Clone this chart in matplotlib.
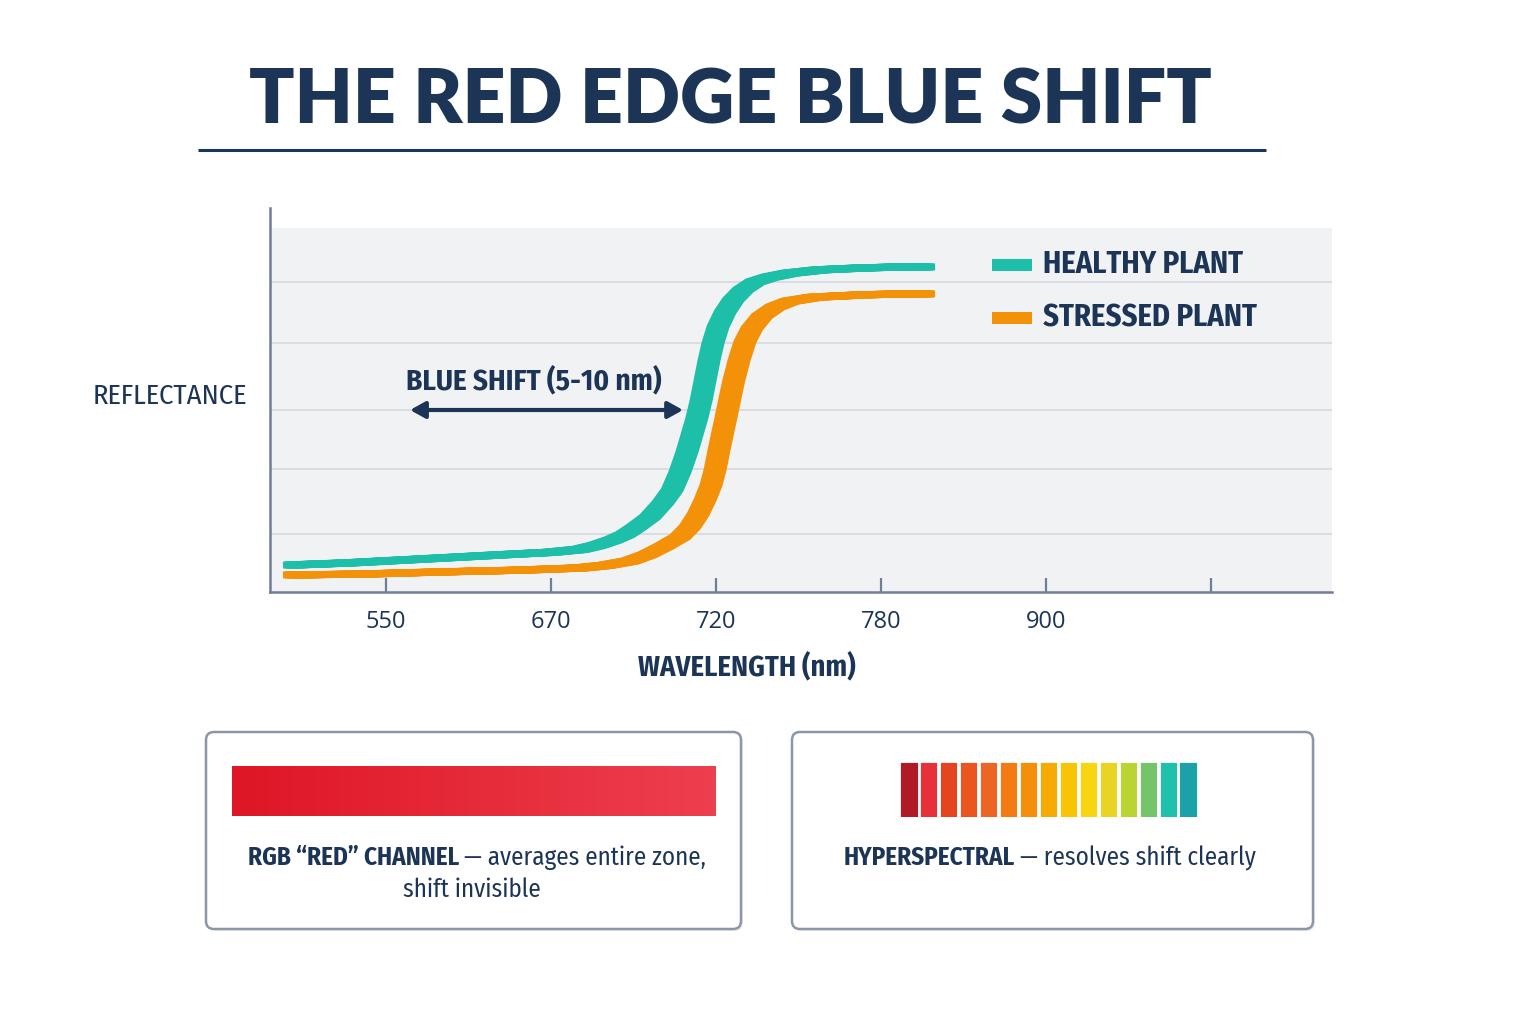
import numpy as np
import matplotlib
matplotlib.use("Agg")
import matplotlib.pyplot as plt
import matplotlib.transforms as mtransforms
from matplotlib.patches import FancyBboxPatch, Rectangle
from matplotlib.colors import LinearSegmentedColormap
from matplotlib.offsetbox import TextArea, HPacker, AnnotationBbox

# ---------------- data ----------------
tick_nm = [550, 670, 720, 780, 900, 1020]
tick_labels = ["550", "670", "720", "780", "900", ""]

healthy_nm = [480.9, 523.1, 588.5, 632.9, 669.3, 678.8, 683.9, 688.8, 692.5, 695.5,
              700.0, 703.9, 706.7, 709.1, 711.2, 712.7, 714.2, 715.5, 716.7, 717.9,
              719.1, 720.7, 723.3, 726.2, 729.8, 734.2, 739.6, 746.9, 757.8, 772.4,
              793.8, 813.5]
healthy_refl = [7.4, 8.0, 9.3, 10.2, 10.9, 11.7, 12.8, 14.3, 15.8, 17.6,
                20.6, 24.5, 28.0, 33.0, 38.5, 43.1, 47.8, 52.7, 58.2, 63.7,
                68.4, 72.8, 76.9, 80.2, 83.0, 85.2, 86.5, 87.6, 88.5, 89.0,
                89.3, 89.3]

stressed_nm = [480.9, 531.1, 588.5, 647.5, 678.8, 686.4, 693.9, 699.1, 703.9, 709.1,
               712.1, 714.5, 716.7, 718.5, 719.7, 721.1, 722.5, 723.6, 725.1, 726.5,
               728.4, 730.5, 733.1, 736.7, 741.5, 746.9, 756.0, 772.4, 793.8, 813.5]
stressed_refl = [4.7, 4.9, 5.5, 6.0, 6.6, 7.3, 8.5, 10.2, 12.4, 15.1,
                 17.9, 21.2, 25.3, 29.4, 33.5, 39.0, 44.0, 47.8, 53.3, 58.2,
                 63.7, 68.7, 72.5, 75.8, 78.3, 79.9, 81.0, 81.6, 81.9, 81.9]

grid_refl = [15.9, 33.8, 50.0, 68.4, 85.2]
shift_arrow_nm = [567.5, 710.0]
shift_arrow_refl = 50.0
series_names = ["HEALTHY PLANT", "STRESSED PLANT"]
series_colors = ["#1dbfa9", "#f39208"]
red_gradient = ["#de1626", "#ee3f4e"]
spectrum_colors = ["#b01a24", "#e8303a", "#e4441f", "#ea5520", "#ec6525",
                   "#f47a14", "#f58e0a", "#f6aa06", "#f9c404", "#f9d511",
                   "#e9d426", "#bad433", "#74c46a", "#1fc0ac", "#1ca1a8"]

NAVY = "#1c3557"
SPINE = "#6f7f95"
COND = ["Fira Sans Condensed", "PT Sans Narrow", "Roboto Condensed", "DejaVu Sans"]

W, H = 1536, 1024
fig = plt.figure(figsize=(W / 100, H / 100), dpi=100)
fig.patch.set_facecolor("white")

# overlay axes in pixel units
ov = fig.add_axes([0, 0, 1, 1])
ov.set_xlim(0, W)
ov.set_ylim(H, 0)
ov.axis("off")
ov.set_zorder(2)

# title
ov.text(730, 102, "THE RED EDGE BLUE SHIFT", ha="center", va="center",
        fontsize=54, fontweight="heavy", color=NAVY, family=["Lato", "DejaVu Sans"])
ov.plot([198, 1266], [150, 150], color=NAVY, lw=2.2, solid_capstyle="butt")

# ---------------- main chart ----------------
def fwd(x):
    x = np.asarray(x, dtype=float)
    y = np.interp(x, tick_nm, np.arange(1, len(tick_nm) + 1))
    y = np.where(x < tick_nm[0], 1 + (x - tick_nm[0]) / 120.0, y)
    y = np.where(x > tick_nm[-1], len(tick_nm) + (x - tick_nm[-1]) / 120.0, y)
    return y

def inv(p):
    p = np.asarray(p, dtype=float)
    x = np.interp(p, np.arange(1, len(tick_nm) + 1), tick_nm)
    x = np.where(p < 1, tick_nm[0] + (p - 1) * 120.0, x)
    x = np.where(p > len(tick_nm), tick_nm[-1] + (p - len(tick_nm)) * 120.0, x)
    return x

ax = fig.add_axes([270 / W, 1 - 592 / H, (1332 - 270) / W, 384 / H])
ax.set_zorder(1)
ax.set_facecolor("none")
ax.set_xscale("function", functions=(fwd, inv))
ax.set_xlim(inv(0.297), inv(6.733))
ytop = 100 * 384 / 364
ax.set_ylim(0, ytop)

ax.add_patch(Rectangle((0, 0), 1, 100 / ytop, transform=ax.transAxes,
                       facecolor="#f1f2f4", edgecolor="none", zorder=0))
for g in grid_refl:
    ax.axhline(g, color="#d8dadf", lw=1.3, zorder=1)

for spine in ["top", "right"]:
    ax.spines[spine].set_visible(False)
for spine in ["left", "bottom"]:
    ax.spines[spine].set_color(SPINE)
    ax.spines[spine].set_linewidth(1.8)

ax.set_xticks(tick_nm)
ax.set_xticklabels(tick_labels)
ax.tick_params(axis="x", direction="in", length=10, width=1.6, color=SPINE,
               labelsize=17, labelcolor=NAVY, pad=13)
for lbl in ax.get_xticklabels():
    lbl.set_family(["Open Sans", "DejaVu Sans"])
ax.set_yticks([])

# curves with calligraphic thickness
for xs, ys, c in [(stressed_nm, stressed_refl, series_colors[1]),
                  (healthy_nm, healthy_refl, series_colors[0])]:
    for dx in np.linspace(-8, 8, 13):
        tr = mtransforms.offset_copy(ax.transData, fig=fig, x=dx, y=0, units="dots")
        ax.plot(xs, ys, color=c, lw=5.0, solid_capstyle="butt", solid_joinstyle="round",
                transform=tr, zorder=3)

# blue shift annotation
ax.annotate("", xy=(shift_arrow_nm[0], shift_arrow_refl),
            xytext=(shift_arrow_nm[1], shift_arrow_refl),
            arrowprops=dict(arrowstyle="<|-|>,head_length=0.9,head_width=0.5",
                            color=NAVY, lw=3.0, shrinkA=0, shrinkB=0), zorder=4)
ov.text(534, 381, "BLUE SHIFT (5-10 nm)", ha="center", va="center",
        fontsize=21, fontweight="bold", color=NAVY, family=COND)

# legend
for i, (name, c) in enumerate(zip(series_names, series_colors)):
    yc = 265 + i * 53
    ov.add_patch(Rectangle((992, yc - 6), 40, 12, facecolor=c, edgecolor="none", zorder=5))
    ov.text(1043, yc, name, ha="left", va="center", fontsize=22,
            fontweight="bold", color=NAVY, family=COND, zorder=6)

# axis labels
ov.text(170, 396, "REFLECTANCE", ha="center", va="center",
        fontsize=20.5, color=NAVY, family=COND)
ov.text(747, 667, "WAVELENGTH (nm)", ha="center", va="center",
        fontsize=20.5, fontweight="bold", color=NAVY, family=COND)

# ---------------- bottom boxes ----------------
for (x0, x1) in [(206, 741), (792, 1313)]:
    ov.add_patch(FancyBboxPatch((x0 + 2, 734), x1 - x0, 197,
                                boxstyle="round,pad=0,rounding_size=8",
                                facecolor="#eceef1", edgecolor="none", zorder=1))
    ov.add_patch(FancyBboxPatch((x0, 732), x1 - x0, 197,
                                boxstyle="round,pad=0,rounding_size=8",
                                facecolor="white", edgecolor="#8a97a9", lw=1.8, zorder=2))

axr = fig.add_axes([232 / W, 1 - 816 / H, (716 - 232) / W, 50 / H])
axr.imshow(np.linspace(0, 1, 256)[None, :], aspect="auto",
           cmap=LinearSegmentedColormap.from_list("redg", red_gradient))
axr.axis("off")
axr.set_zorder(3)

axs = fig.add_axes([899 / W, 1 - 817 / H, (1198 - 899) / W, 55 / H])
axs.bar(np.arange(len(spectrum_colors)), 1, width=0.86, color=spectrum_colors,
        edgecolor="#ffffff", linewidth=0.6)
axs.set_xlim(-0.5, len(spectrum_colors) - 0.5)
axs.set_ylim(0, 1)
axs.axis("off")
axs.set_zorder(3)

def mixed_line(parts, xy, size=18):
    areas = [TextArea(t, textprops=dict(fontsize=size, fontweight=w, color=NAVY, family=COND))
             for t, w in parts]
    box = HPacker(children=areas, pad=0, sep=4, align="baseline")
    ab = AnnotationBbox(box, (xy[0] / W, 1 - xy[1] / H), xycoords="figure fraction",
                        frameon=False, box_alignment=(0.5, 0.5), pad=0)
    ab.set_zorder(5)
    fig.add_artist(ab)

mixed_line([("RGB \u201cRED\u201d CHANNEL", "bold"), ("\u2014 averages entire zone,", "normal")], (477, 858))
mixed_line([("shift invisible", "normal")], (472, 890))
mixed_line([("HYPERSPECTRAL", "bold"), ("\u2014 resolves shift clearly", "normal")], (1050, 858))

fig.savefig("out.png", dpi=100, facecolor="white")
